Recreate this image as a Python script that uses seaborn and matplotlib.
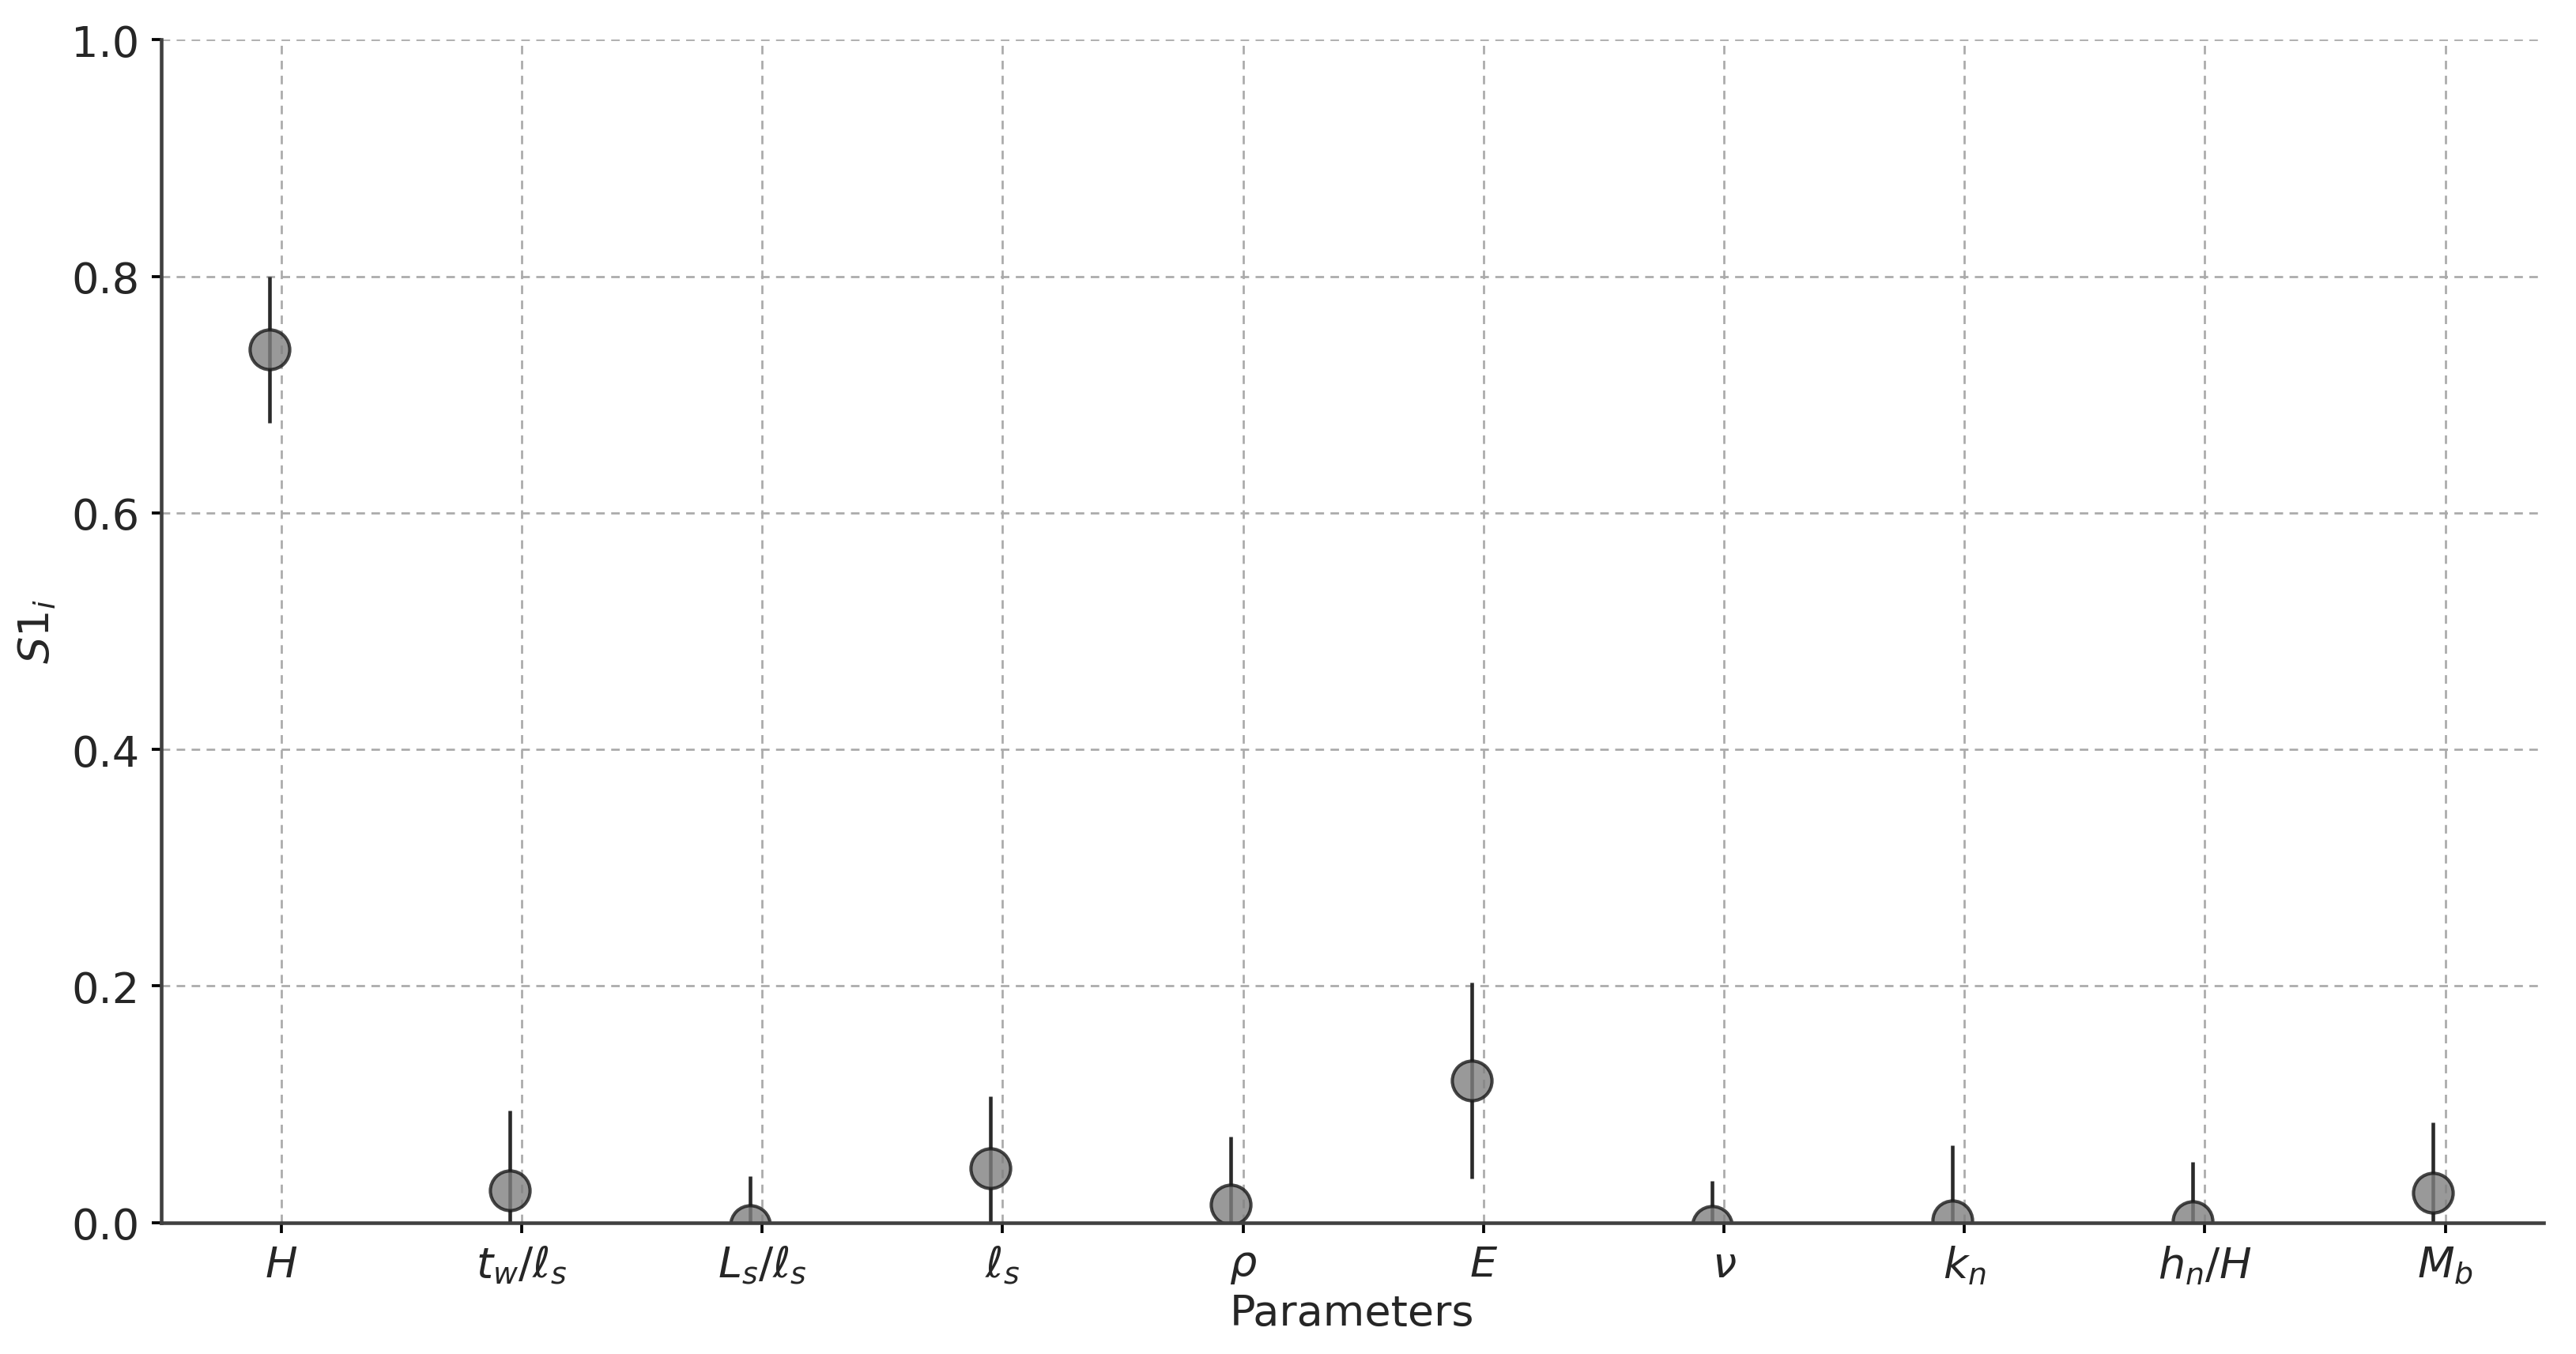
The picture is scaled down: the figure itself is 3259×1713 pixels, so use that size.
import seaborn as sns
import pandas as pd
import matplotlib.pyplot as plt
import numpy as np

# first-order sensitivity indices with confidence intervals
params = [r"$H$", r"$t_w/\ell_s$", r"$L_s/\ell_s$", r"$\ell_s$", r"$\rho$",
          r"$E$", r"$\nu$", r"$k_n$", r"$h_n/H$", r"$M_b$"]
s1 = [0.738, 0.027, -0.002, 0.046, 0.015, 0.120, -0.003, 0.002, 0.001, 0.025]
s1_conf = [0.062, 0.068, 0.041, 0.061, 0.058, 0.083, 0.038, 0.063, 0.050, 0.060]

df = pd.DataFrame({"param": params, "S1": s1, "conf": s1_conf})
df["pos"] = np.arange(len(df)) - 0.05

sns.set_style("ticks")
plt.rcParams["font.family"] = ["DejaVu Sans"]

fig, ax = plt.subplots(figsize=(3259 / 300, 1714 / 300), dpi=300)
fig.subplots_adjust(left=0.0625, right=0.9875, top=0.97, bottom=0.097)

# error bars first, then markers on top
ax.errorbar(df["pos"], df["S1"], yerr=df["conf"], fmt="none",
            ecolor="#2a2a2a", elinewidth=1.1, zorder=2)
sns.scatterplot(data=df, x="pos", y="S1", ax=ax, s=145, color="gray",
                alpha=0.8, edgecolor="#1a1a1a", linewidth=1.0, zorder=3,
                legend=False)

ax.set_xticks(np.arange(len(params)))
ax.set_xticklabels(params)
ax.set_xlim(-0.5, 9.41)
ax.set_ylim(0, 1.0)
ax.set_yticks(np.arange(0, 1.01, 0.2))

ax.grid(True, linestyle=(0, (4, 3)), color="#aaaaaa", linewidth=0.65)
ax.set_axisbelow(True)

for side in ("top", "right"):
    ax.spines[side].set_visible(False)
for side in ("left", "bottom"):
    ax.spines[side].set_color("#404040")
    ax.spines[side].set_linewidth(1.1)
    ax.spines[side].set_zorder(4)

ax.tick_params(axis="both", labelsize=13, length=3.0, width=0.9, color="black")
ax.set_xlabel("Parameters", fontsize=13, labelpad=2)
ax.set_ylabel(r"$S1_i$", fontsize=13)

plt.savefig("out.png", dpi=300)
plt.close()
